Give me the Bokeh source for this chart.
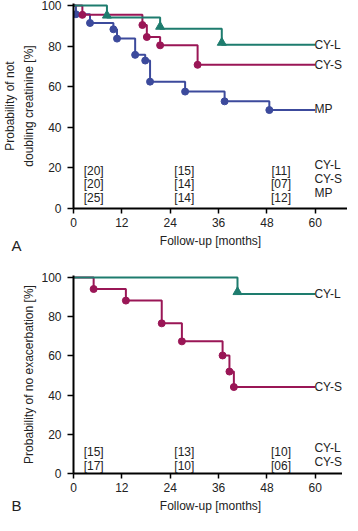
from bokeh.plotting import figure
from bokeh.layouts import column
from bokeh.models import Range1d, FixedTicker, Label, Title
from bokeh.core.properties import value
from bokeh.embed import file_html
from bokeh.resources import INLINE

# ---------------- data ----------------
# Panel A: probability of not doubling creatinine
a_cyl_t = [8.3, 21.5, 36.8]
a_cyl_s = [94.1, 88.6, 80.7]
a_cys_t = [2.2, 17.1, 18.2, 21.5, 30.8]
a_cys_s = [95.4, 90.4, 84.5, 80.4, 70.8]
a_mp_t = [0.6, 4.1, 9.9, 10.8, 15.3, 17.8, 19.0, 27.7, 37.5, 48.6]
a_mp_s = [95.7, 91.4, 88.3, 83.7, 75.7, 72.9, 62.5, 57.6, 52.8, 48.5]
a_groups = ["CY-L", "CY-S", "MP"]
a_risk_months = [5, 27.5, 51.5]
a_risk = {"CY-L": ["[20]", "[15]", "[11]"],
          "CY-S": ["[20]", "[14]", "[07]"],
          "MP": ["[25]", "[14]", "[12]"]}

# Panel B: probability of no exacerbation
b_cyl_t = [40.7]
b_cyl_s = [91.6]
b_cys_t = [5.0, 13.0, 21.9, 26.9, 37.0, 38.7, 39.8]
b_cys_s = [94.1, 88.2, 76.6, 67.4, 60.2, 52.0, 44.1]
b_groups = ["CY-L", "CY-S"]
b_risk_months = [5, 27.5, 51.5]
b_risk = {"CY-L": ["[15]", "[13]", "[10]"],
          "CY-S": ["[17]", "[10]", "[06]"]}

x_ticks = [0, 12, 24, 36, 48, 60]
y_ticks = [0, 20, 40, 60, 80, 100]
end_month = 60

TEAL = "#1e7c6e"
CRIM = "#9a1656"
BLUE = "#3c4a9c"
FONT = "Liberation Sans"
TXT = "#222222"
NAME_X = 59.8


def steps(times, surv, end):
    xs, ys = [0], [100]
    prev = 100
    for t, s in zip(times, surv):
        xs += [t, t]
        ys += [prev, s]
        prev = s
    xs.append(end)
    ys.append(prev)
    return xs, ys


def make_fig(top, fh, bottom):
    p = figure(frame_width=274, frame_height=fh,
               min_border_left=68, min_border_right=0,
               min_border_top=top, min_border_bottom=bottom,
               x_range=Range1d(0, 68), y_range=Range1d(0, 101),
               output_backend="svg", toolbar_location=None)
    p.outline_line_color = None
    p.grid.visible = False
    for ax in (p.xaxis[0], p.yaxis[0]):
        ax.axis_line_width = 2
        ax.axis_line_color = "black"
        ax.major_tick_line_width = 1.5
        ax.major_tick_in = 0
        ax.minor_tick_line_color = None
        ax.major_label_text_font = FONT
        ax.major_label_text_font_size = "12px"
        ax.major_label_text_color = TXT
        ax.axis_label_text_font = FONT
        ax.axis_label_text_font_size = "12px"
        ax.axis_label_text_font_style = "normal"
        ax.axis_label_text_color = TXT
    p.xaxis.ticker = FixedTicker(ticks=x_ticks)
    p.yaxis.ticker = FixedTicker(ticks=y_ticks)
    p.xaxis.major_tick_out = 5
    p.yaxis.major_tick_out = 6
    p.xaxis.major_label_standoff = 4
    p.yaxis.major_label_standoff = 6
    p.xaxis.axis_label = "Follow-up [months]"
    p.xaxis.axis_label_standoff = 4
    return p


def curve(p, times, surv, color, marker):
    xs, ys = steps(times, surv, end_month)
    p.line(xs, ys, line_color=color, line_width=2)
    if marker == "circle":
        p.scatter(times, surv, marker="circle", size=7, fill_color=color, line_color=color)
    else:
        p.scatter(times, [s + 1 for s in surv], marker="triangle", size=9,
                  fill_color=color, line_color=color)


def txt(p, x, y, t, align="left", size="12px"):
    p.add_layout(Label(x=x, y=y, text=t, text_font=FONT, text_font_size=size,
                       text_color=TXT, text_align=align, text_baseline="middle"))


def ylab(p, t, standoff):
    p.add_layout(Title(text=t, align="center", text_font=FONT, text_font_size="12px",
                       text_font_style="normal", text_color=TXT, standoff=standoff), "left")


def panel_letter(p, t, standoff):
    p.add_layout(Title(text=t, align="left", offset=-62, vertical_align="top",
                       standoff=standoff, text_font=FONT, text_font_size="15px",
                       text_font_style="normal", text_color=TXT), "below")


# ---------------- Panel A ----------------
pa = make_fig(3, 205, 50)
curve(pa, a_mp_t, a_mp_s, BLUE, "circle")
curve(pa, a_cys_t, a_cys_s, CRIM, "circle")
curve(pa, a_cyl_t, a_cyl_s, TEAL, "triangle")
txt(pa, NAME_X, 80.5, "CY-L")
txt(pa, NAME_X, 70.8, "CY-S")
txt(pa, NAME_X, 48.8, "MP")
a_row_y = [18.6, 12.2, 5.4]
a_name_y = [21.2, 14.4, 7.6]
for g, ry, ny in zip(a_groups, a_row_y, a_name_y):
    for m, lab in zip(a_risk_months, a_risk[g]):
        txt(pa, m, ry, lab, align="center")
    txt(pa, NAME_X, ny, g)
ylab(pa, "doubling creatinine [%]", 6)
ylab(pa, "Probability of not", 0)
panel_letter(pa, "A", -28)

# ---------------- Panel B ----------------
pb = make_fig(17, 198, 42)
curve(pb, b_cys_t, b_cys_s, CRIM, "circle")
curve(pb, b_cyl_t, b_cyl_s, TEAL, "triangle")
txt(pb, NAME_X, 91.6, "CY-L")
txt(pb, NAME_X, 44.1, "CY-S")
b_row_y = [11.0, 4.0]
b_name_y = [13.0, 6.1]
for g, ry, ny in zip(b_groups, b_row_y, b_name_y):
    for m, lab in zip(b_risk_months, b_risk[g]):
        txt(pb, m, ry, lab, align="center")
    txt(pb, NAME_X, ny, g)
ylab(pb, "Probability of no exacerbation [%]", 6)
panel_letter(pb, "B", -38)

layout = column(pa, pb, spacing=0)
open("out.html", "w").write(file_html(layout, INLINE))
